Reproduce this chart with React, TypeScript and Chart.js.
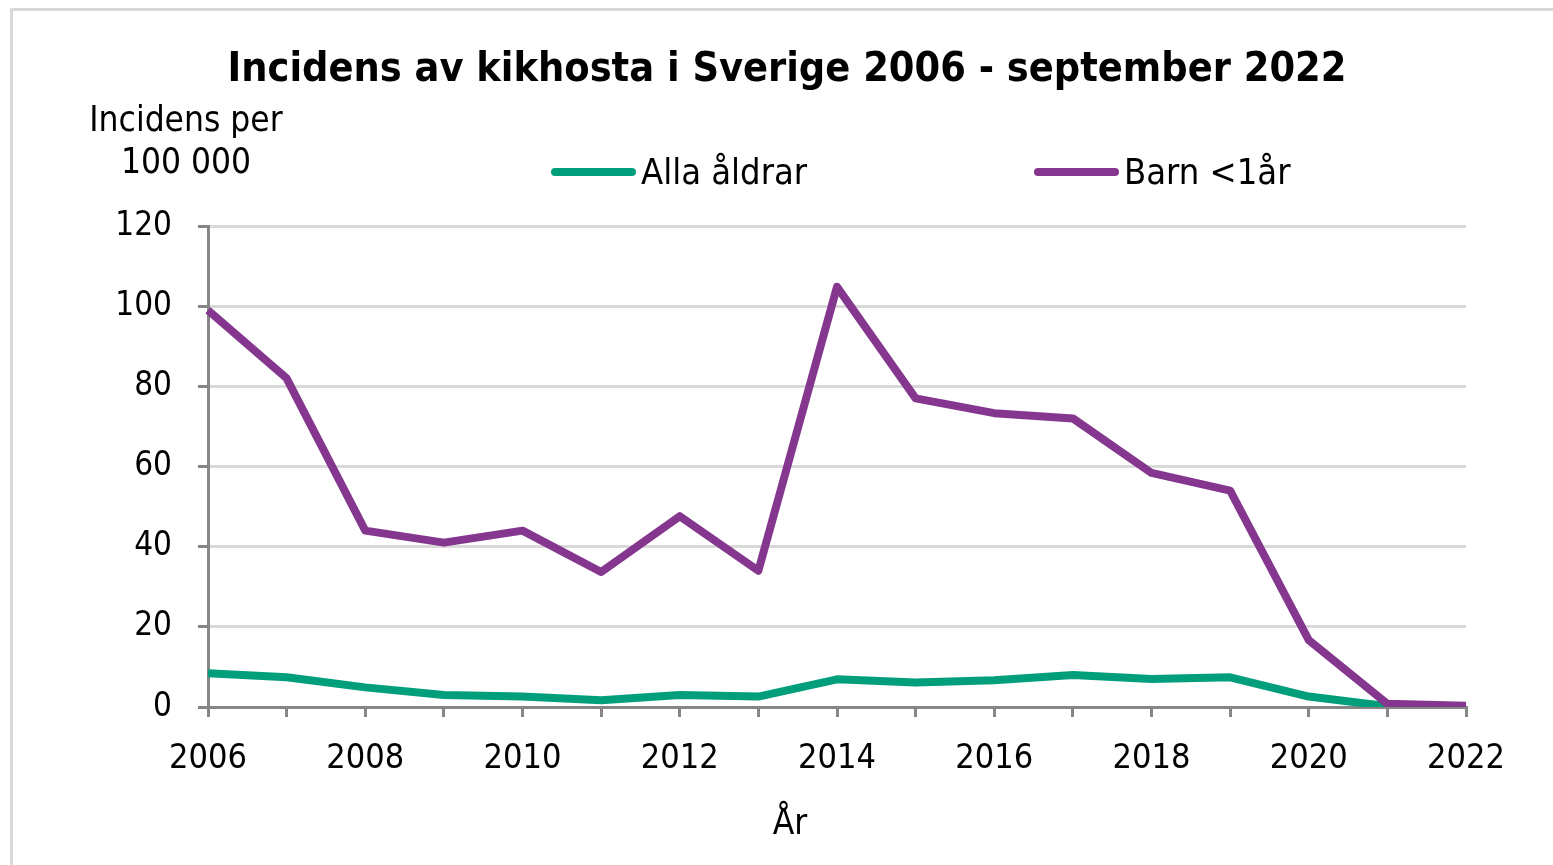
import React, { useEffect, useRef } from "react";
import { Chart, registerables } from "chart.js";

Chart.register(...registerables);

const years = ["2006","2007","2008","2009","2010","2011","2012","2013","2014","2015","2016","2017","2018","2019","2020","2021","2022"];
const allaAldrar = [8.4, 7.4, 4.9, 3.0, 2.6, 1.7, 3.0, 2.6, 6.9, 6.1, 6.7, 8.0, 7.0, 7.4, 2.6, 0.2, 0.1];
const barnUnder1 = [99, 82, 44, 41, 44, 33.7, 47.6, 34, 104.8, 77, 73.3, 72, 58.4, 54, 16.7, 0.8, 0.3];
const seriesNames = ["Alla åldrar", "Barn <1år"];
const seriesColors = ["#009e7a", "#85378f"];
const titleText = "Incidens av kikhosta i Sverige 2006 - september 2022";
const yTitleLines = ["Incidens per", "100 000"];
const xTitleText = "År";

const FONT = "'DejaVu Sans Condensed', 'DejaVu Sans', Verdana, sans-serif";

const decor = {
  id: "decor",
  beforeDraw(chart: any) {
    const c = chart.ctx;
    c.save();
    c.fillStyle = "#fff";
    c.fillRect(0, 0, chart.width, chart.height);
    c.strokeStyle = "#d9d9d9";
    c.lineWidth = 3;
    c.strokeRect(11.5, 9.5, 1700, 1000);
    c.restore();
  },
  afterDraw(chart: any) {
    const c = chart.ctx;
    c.save();
    c.fillStyle = "#000";
    c.textBaseline = "middle";
    c.textAlign = "center";
    c.font = `bold 41px ${FONT}`;
    c.fillText(titleText, 787, 70);
    c.font = `35px ${FONT}`;
    c.fillText(yTitleLines[0], 186, 122);
    c.fillText(yTitleLines[1], 186, 164);
    c.fillText(xTitleText, 790, 825);
    // legend
    const items = [
      { x: 552, label: seriesNames[0], color: seriesColors[0] },
      { x: 1035, label: seriesNames[1], color: seriesColors[1] },
    ];
    c.lineCap = "round";
    c.lineWidth = 8;
    c.textAlign = "left";
    c.font = `36px ${FONT}`;
    for (const it of items) {
      c.strokeStyle = it.color;
      c.beginPath();
      c.moveTo(it.x + 3, 172);
      c.lineTo(it.x + 80, 172);
      c.stroke();
      c.fillText(it.label, it.x + 89, 175);
    }
    c.restore();
  },
};

export default function App() {
  const ref = useRef<HTMLCanvasElement>(null);
  useEffect(() => {
    document.documentElement.style.overflow = "hidden";
    const chart = new Chart(ref.current!, {
      type: "line",
      data: {
        labels: years,
        datasets: [
          {
            label: seriesNames[0],
            data: allaAldrar,
            borderColor: seriesColors[0],
            backgroundColor: seriesColors[0],
            borderWidth: 8,
            pointRadius: 0,
            tension: 0,
            borderJoinStyle: "round",
            order: 2,
          },
          {
            label: seriesNames[1],
            data: barnUnder1,
            borderColor: seriesColors[1],
            backgroundColor: seriesColors[1],
            borderWidth: 8,
            pointRadius: 0,
            tension: 0,
            borderJoinStyle: "round",
            order: 1,
          },
        ],
      },
      options: {
        responsive: false,
        animation: false,
        layout: { padding: { left: 88, top: 226, right: 87, bottom: 58 } },
        plugins: { legend: { display: false }, title: { display: false }, tooltip: { enabled: false } },
        scales: {
          x: {
            afterFit: (s: any) => { s.height = 100; },
            grid: { display: true, drawOnChartArea: false, drawTicks: true, tickLength: 10, color: "#868686", lineWidth: 3 },
            border: { color: "#868686", width: 3 },
            ticks: {
              autoSkip: false,
              maxRotation: 0,
              padding: 22,
              color: "#000",
              font: { family: FONT, size: 34 },
              callback: (_v: any, i: number) => (i % 2 === 0 ? years[i] : ""),
            },
          },
          y: {
            min: 0,
            max: 120,
            afterFit: (s: any) => { s.width = 120; },
            grid: {
              color: (ctx: any) => (ctx.tick && ctx.tick.value === 0 ? "rgba(0,0,0,0)" : "#d9d9d9"),
              tickColor: "#868686",
              lineWidth: 3,
              tickLength: 10,
            },
            border: { color: "#868686", width: 3 },
            ticks: { stepSize: 20, padding: 26, color: "#000", font: { family: FONT, size: 33 } },
          },
        },
      },
      plugins: [decor],
    } as any);
    return () => chart.destroy();
  }, []);
  return (
    <div style={{ position: "fixed", left: 0, top: 0 }}>
      <canvas ref={ref} width={1553} height={865} style={{ display: "block" }} />
    </div>
  );
}
